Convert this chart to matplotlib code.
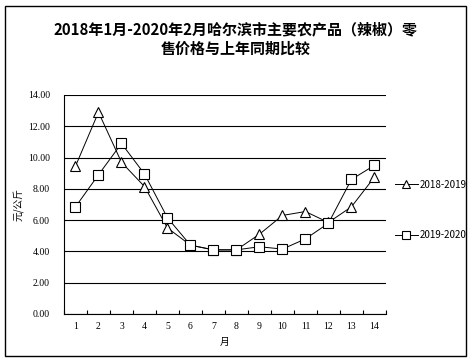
import numpy as np
import matplotlib
matplotlib.use("Agg")
import matplotlib.pyplot as plt
from matplotlib.patches import Rectangle

plt.rcParams['font.family'] = ['Noto Sans CJK SC', 'DejaVu Sans']

# 数据
months = list(range(1, 15))
s1_label = '2018-2019'
s1 = [9.45, 12.9, 9.7, 8.15, 5.5, 4.4, 4.1, 4.1, 5.1, 6.3, 6.55, 5.85, 6.85, 8.75]
s2_label = '2019-2020'
s2 = [6.85, 8.9, 10.9, 8.95, 6.15, 4.4, 4.1, 4.1, 4.3, 4.15, 4.8, 5.8, 8.6, 9.5]
yticks = np.arange(0, 14.01, 2)

fig = plt.figure(figsize=(4.72, 3.62), dpi=100)
ax = fig.add_axes([0.1356, 0.1326, 0.682, 0.605])

x = np.arange(len(months))
ax.plot(x, s1, color='k', lw=0.7, marker='^', ms=7, mfc='white', mec='k', mew=0.8, label=s1_label)
ax.plot(x, s2, color='k', lw=0.7, marker='s', ms=7, mfc='white', mec='k', mew=0.8, label=s2_label)

ax.set_xlim(-0.5, len(months) - 0.5)
ax.set_ylim(0, 14)
ax.set_yticks(yticks)
ax.set_yticklabels(['%.2f' % v for v in yticks], fontsize=7, family='Liberation Serif')
ax.set_xticks(x)
ax.set_xticklabels([str(m) for m in months], fontsize=7, family='Liberation Serif')
ax.set_xticks(np.arange(-0.5, len(months)), minor=True)
ax.tick_params(axis='x', which='major', length=0, pad=6)
ax.tick_params(axis='x', which='minor', length=3, direction='in', width=0.8)
ax.tick_params(axis='y', length=0, pad=10)
ax.grid(axis='y', color='k', lw=0.8)
ax.set_axisbelow(True)
for s in ['top', 'right']:
    ax.spines[s].set_visible(False)
ax.spines['left'].set_linewidth(0.8)
ax.spines['bottom'].set_linewidth(0.8)

ax.set_ylabel('元/公斤', fontsize=7, labelpad=3)
ax.set_xlabel('月', fontsize=7, labelpad=4)

fig.text(0.5, 0.94, '2018年1月-2020年2月哈尔滨市主要农产品（辣椒）零\n售价格与上年同期比较',
         ha='center', va='top', fontsize=10.8, fontweight='bold', linespacing=1.25)

ax.legend(loc='center left', bbox_to_anchor=(1.0, 0.475), frameon=False, fontsize=7,
          labelspacing=4.2, handlelength=2.4, handletextpad=0.15, markerscale=0.8)

fig.patches.append(Rectangle((5 / 472, 6 / 362), 461 / 472, 350 / 362, transform=fig.transFigure,
                             fill=False, ec='k', lw=1))

plt.savefig('out.png', dpi=100)
